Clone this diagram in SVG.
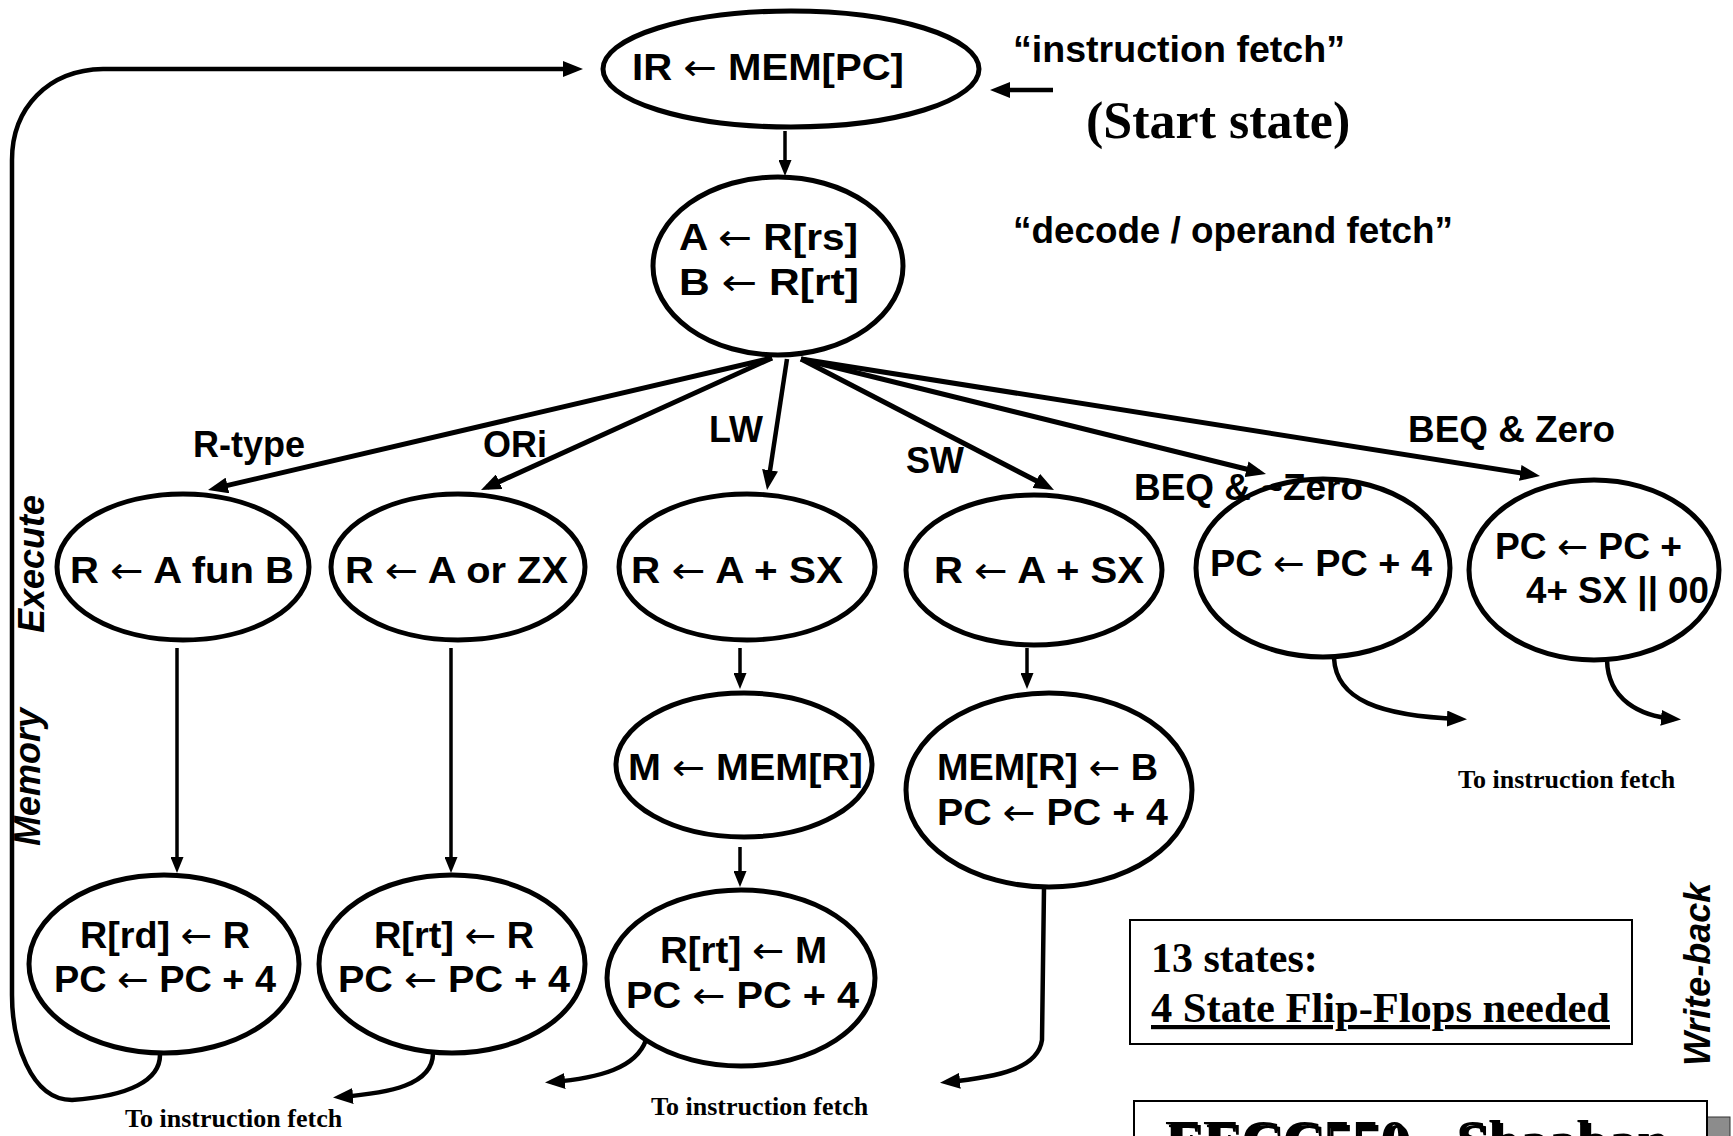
<svg xmlns="http://www.w3.org/2000/svg" width="1733" height="1136" viewBox="0 0 1733 1136">
<defs>
<style>
.st{fill:none;stroke:#000;stroke-width:5}
.t{font-family:"Liberation Sans",Arial,sans-serif;font-weight:bold;font-size:36px;fill:#000}
.ar{font-family:"DejaVu Sans",sans-serif;font-weight:normal}
.tm{font-family:"Liberation Serif","Times New Roman",serif;font-weight:bold;fill:#000}
.ln{fill:none;stroke:#000;stroke-width:4.5}
.fan{fill:none;stroke:#000;stroke-width:5}
.thin{fill:none;stroke:#000;stroke-width:3.5}
.side{font-family:"Liberation Sans",Arial,sans-serif;font-weight:bold;font-style:italic;font-size:36px;fill:#000}
</style>
<marker id="ah" markerUnits="userSpaceOnUse" markerWidth="20" markerHeight="16" refX="13" refY="8" orient="auto"><path d="M0,0 L20,8 L0,16 z"/></marker>
<marker id="as" markerUnits="userSpaceOnUse" markerWidth="16" markerHeight="13" refX="10" refY="6.5" orient="auto"><path d="M0,0 L16,6.5 L0,13 z"/></marker>
</defs>
<rect width="1733" height="1136" fill="#fff"/>

<!-- connectors -->
<g id="connectors">
  <path class="ln" d="M160,1055 C160,1080 130,1096 72,1100 C30,1100 12,1040 12,995 L12,160 C12,108 48,70 103,69 L576,69" marker-end="url(#ah)"/>
  <line class="thin" x1="785" y1="131" x2="785" y2="170" marker-end="url(#as)"/>
  <line class="fan" x1="772" y1="358" x2="214.8" y2="488.4" marker-end="url(#ah)"/>
  <line class="fan" x1="772" y1="358" x2="487.4" y2="487.1" marker-end="url(#ah)"/>
  <line class="ln" x1="787" y1="359" x2="768.1" y2="483.1" marker-end="url(#ah)"/>
  <line class="fan" x1="801" y1="359" x2="1047.8" y2="486.8" marker-end="url(#ah)"/>
  <line class="fan" x1="801" y1="359" x2="1259.2" y2="472.3" marker-end="url(#ah)"/>
  <line class="fan" x1="801" y1="359" x2="1533.1" y2="474.9" marker-end="url(#ah)"/>
  <line class="thin" x1="177" y1="648" x2="177" y2="867" marker-end="url(#as)"/>
  <line class="thin" x1="451" y1="648" x2="451" y2="867" marker-end="url(#as)"/>
  <line class="thin" x1="740" y1="648" x2="740" y2="683" marker-end="url(#as)"/>
  <line class="thin" x1="740" y1="847" x2="740" y2="881" marker-end="url(#as)"/>
  <line class="thin" x1="1027" y1="648" x2="1027" y2="683" marker-end="url(#as)"/>
  <path class="ln" d="M1044,888 L1042,1040 C1038,1068 1000,1077 947,1082" marker-end="url(#ah)"/>
  <path class="ln" d="M433,1053 C433,1085 390,1093 340,1097" marker-end="url(#ah)"/>
  <path class="ln" d="M646,1040 C636,1068 600,1078 552,1082" marker-end="url(#ah)"/>
  <path class="ln" d="M1334,658 C1336,700 1380,716 1460,719" marker-end="url(#ah)"/>
  <path class="ln" d="M1607,660 C1608,700 1640,716 1674,719" marker-end="url(#ah)"/>
  <line class="ln" x1="1053" y1="90" x2="997" y2="90" marker-end="url(#ah)"/>
</g>

<!-- states -->
<g id="n-fetch">
  <ellipse class="st" cx="791" cy="69" rx="188" ry="58"/>
  <text class="t" x="632" y="80" textLength="272" lengthAdjust="spacingAndGlyphs">IR <tspan class="ar">←</tspan> MEM[PC]</text>
</g>
<g id="n-decode">
  <ellipse class="st" cx="778" cy="266" rx="125" ry="89"/>
  <text class="t" x="679" y="250" textLength="179" lengthAdjust="spacingAndGlyphs">A <tspan class="ar">←</tspan> R[rs]</text>
  <text class="t" x="679" y="295" textLength="180" lengthAdjust="spacingAndGlyphs">B <tspan class="ar">←</tspan> R[rt]</text>
</g>
<g id="n-rtype-ex">
  <ellipse class="st" cx="183" cy="567" rx="126" ry="73"/>
  <text class="t" x="70" y="583" textLength="224" lengthAdjust="spacingAndGlyphs">R <tspan class="ar">←</tspan> A fun B</text>
</g>
<g id="n-ori-ex">
  <ellipse class="st" cx="458" cy="567" rx="127" ry="73"/>
  <text class="t" x="345" y="583" textLength="223" lengthAdjust="spacingAndGlyphs">R <tspan class="ar">←</tspan> A or ZX</text>
</g>
<g id="n-lw-ex">
  <ellipse class="st" cx="747" cy="567" rx="128" ry="73"/>
  <text class="t" x="631" y="583" textLength="212" lengthAdjust="spacingAndGlyphs">R <tspan class="ar">←</tspan> A + SX</text>
</g>
<g id="n-sw-ex">
  <ellipse class="st" cx="1034" cy="570" rx="128" ry="75"/>
  <text class="t" x="934" y="583" textLength="210" lengthAdjust="spacingAndGlyphs">R <tspan class="ar">←</tspan> A + SX</text>
</g>
<g id="n-beq-nz">
  <ellipse class="st" cx="1323" cy="568" rx="127" ry="89"/>
  <text class="t" x="1210" y="576" textLength="222" lengthAdjust="spacingAndGlyphs">PC <tspan class="ar">←</tspan> PC + 4</text>
</g>
<g id="n-beq-z">
  <ellipse class="st" cx="1594" cy="570" rx="125" ry="90"/>
  <text class="t" x="1495" y="559" textLength="187" lengthAdjust="spacingAndGlyphs">PC <tspan class="ar">←</tspan> PC +</text>
  <text class="t" x="1526" y="603" textLength="183" lengthAdjust="spacingAndGlyphs">4+ SX || 00</text>
</g>
<g id="n-lw-mem">
  <ellipse class="st" cx="744" cy="765" rx="128" ry="72"/>
  <text class="t" x="628" y="780" textLength="235" lengthAdjust="spacingAndGlyphs">M <tspan class="ar">←</tspan> MEM[R]</text>
</g>
<g id="n-sw-mem">
  <ellipse class="st" cx="1049" cy="790" rx="143" ry="97"/>
  <text class="t" x="937" y="780" textLength="221" lengthAdjust="spacingAndGlyphs">MEM[R] <tspan class="ar">←</tspan> B</text>
  <text class="t" x="937" y="825" textLength="231" lengthAdjust="spacingAndGlyphs">PC <tspan class="ar">←</tspan> PC + 4</text>
</g>
<g id="n-rtype-wb">
  <ellipse class="st" cx="164" cy="964" rx="135" ry="89"/>
  <text class="t" x="80" y="948" textLength="170" lengthAdjust="spacingAndGlyphs">R[rd] <tspan class="ar">←</tspan> R</text>
  <text class="t" x="54" y="992" textLength="222" lengthAdjust="spacingAndGlyphs">PC <tspan class="ar">←</tspan> PC + 4</text>
</g>
<g id="n-ori-wb">
  <ellipse class="st" cx="452" cy="964" rx="133" ry="89"/>
  <text class="t" x="374" y="948" textLength="160" lengthAdjust="spacingAndGlyphs">R[rt] <tspan class="ar">←</tspan> R</text>
  <text class="t" x="338" y="992" textLength="232" lengthAdjust="spacingAndGlyphs">PC <tspan class="ar">←</tspan> PC + 4</text>
</g>
<g id="n-lw-wb">
  <ellipse class="st" cx="741" cy="978" rx="134" ry="88"/>
  <text class="t" x="660" y="963" textLength="167" lengthAdjust="spacingAndGlyphs">R[rt] <tspan class="ar">←</tspan> M</text>
  <text class="t" x="626" y="1008" textLength="233" lengthAdjust="spacingAndGlyphs">PC <tspan class="ar">←</tspan> PC + 4</text>
</g>

<!-- transition labels -->
<g id="labels">
  <text class="t" x="193" y="457">R-type</text>
  <text class="t" x="483" y="457">ORi</text>
  <text class="t" x="709" y="442">LW</text>
  <text class="t" x="906" y="473">SW</text>
  <text class="t" x="1134" y="500" textLength="229" lengthAdjust="spacingAndGlyphs">BEQ &amp; ~Zero</text>
  <text class="t" x="1408" y="442" textLength="207" lengthAdjust="spacingAndGlyphs">BEQ &amp; Zero</text>
  <text class="tm" x="125" y="1127" font-size="26">To instruction fetch</text>
  <text class="tm" x="651" y="1115" font-size="26">To instruction fetch</text>
  <text class="tm" x="1458" y="788" font-size="26">To instruction fetch</text>
</g>

<!-- phase names and notes -->
<g id="notes">
  <text class="t" x="1013" y="62" textLength="332" lengthAdjust="spacingAndGlyphs">“instruction fetch”</text>
  <text class="tm" x="1086" y="138" font-size="52">(Start state)</text>
  <text class="t" x="1013" y="243" textLength="440" lengthAdjust="spacingAndGlyphs">“decode / operand fetch”</text>
  <text class="side" transform="translate(44,633) rotate(-90)">Execute</text>
  <text class="side" transform="translate(40,846) rotate(-90)">Memory</text>
  <text class="side" transform="translate(1710,1066) rotate(-90)">Write-back</text>
</g>

<g id="state-count">
  <rect x="1130" y="920" width="502" height="124" fill="none" stroke="#000" stroke-width="2"/>
  <text class="tm" x="1151" y="972" font-size="42">13 states:</text>
  <text class="tm" x="1151" y="1022" font-size="42" text-decoration="underline" textLength="459" lengthAdjust="spacingAndGlyphs">4 State Flip-Flops needed</text>
</g>

<g id="footer">
  <rect x="1152" y="1117" width="578" height="60" fill="#8c8c8c" stroke="#333" stroke-width="1"/>
  <rect x="1134" y="1101" width="573" height="60" fill="#fff" stroke="#000" stroke-width="2"/>
  <text class="tm" x="1168" y="1163" font-size="57" fill="#999">EECC550 - Shaaban</text>
  <text class="tm" x="1165" y="1160" font-size="57">EECC550 - Shaaban</text>
</g>
</svg>
